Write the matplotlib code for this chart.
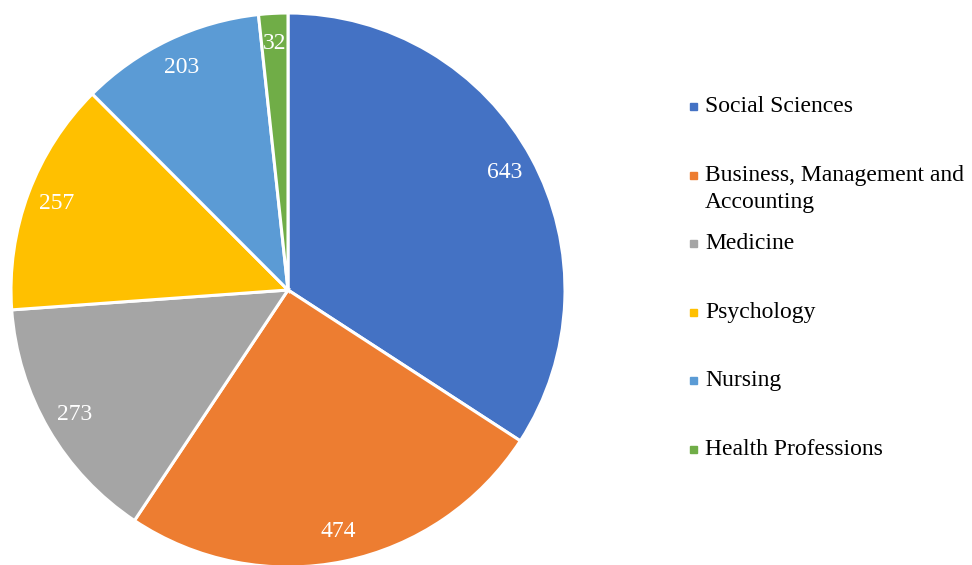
import matplotlib.pyplot as plt

plt.rcParams["font.family"] = ["Liberation Serif", "DejaVu Serif"]

categories = ["Social Sciences", "Business, Management and\nAccounting", "Medicine",
              "Psychology", "Nursing", "Health Professions"]
values = [643, 474, 273, 257, 203, 32]
colors = ["#4472C4", "#ED7D31", "#A5A5A5", "#FFC000", "#5B9BD5", "#70AD47"]

W, H = 972, 565
fig = plt.figure(figsize=(W / 100, H / 100), dpi=100)

# pie centred at (288, 290) px, radius 277 px
cx, cy, r = 288, 290, 277
ax = fig.add_axes([(cx - r) / W, (H - cy - r) / H, 2 * r / W, 2 * r / H])
wedges, texts, autotexts = ax.pie(
    values, colors=colors, startangle=90, counterclock=False,
    autopct=lambda p: f"{p * sum(values) / 100:.0f}", pctdistance=0.89,
    wedgeprops=dict(edgecolor="white", linewidth=2.2),
    textprops=dict(color="white", fontsize=17),
)
ax.set_xlim(-1, 1)
ax.set_ylim(-1, 1)
ax.axis("off")

# legend, one entry every ~68.6 px
y0, step = 106, 68.6
for i, (lab, col) in enumerate(zip(categories, colors)):
    y = y0 + i * step
    fig.patches.append(plt.Rectangle((690 / W, 1 - (y + 4) / H), 7 / W, 7 / H,
                                     transform=fig.transFigure, color=col, figure=fig))
    fig.text(705 / W, 1 - (y - 10) / H, lab, fontsize=17, va="top", ha="left",
             linespacing=1.4, color="black")

fig.savefig("out.png", dpi=100)
